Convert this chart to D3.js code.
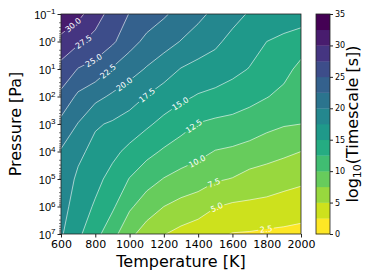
<!DOCTYPE html>
<html>
<head>
<meta charset="utf-8">
<script src="https://cdn.jsdelivr.net/npm/d3@7"></script>
<style>
  body { margin: 0; background: #fff; }
  svg { display: block; font-family: "DejaVu Sans", sans-serif; }
</style>
</head>
<body>
<svg id="chart" width="374" height="280"></svg>
<script>
// grid the values were read on
const temperatures = [600, 700, 800, 900, 1000, 1100, 1200, 1300, 1400, 1500, 1600, 1700, 1800, 1900, 2000];
const pressureExponents = [-1, 0, 1, 2, 3, 4, 5, 6, 7];

// log10(timescale [s]), one row per pressure (1e-1 Pa first)
const timescale = [
  [32.2, 30.7, 28.6, 26.5, 24.9, 23.8, 22.8, 21.7, 20.6, 19.4, 18.2, 17.3, 17.0, 16.7, 16.4],
  [29.2, 27.9, 26.7, 25.4, 23.4, 21.9, 21.0, 19.9, 18.9, 17.9, 16.9, 16.0, 15.0, 14.3, 13.6],
  [26.7, 24.9, 24.1, 22.3, 21.0, 19.8, 18.6, 17.4, 16.7, 16.5, 15.7, 14.9, 13.8, 13.2, 11.9],
  [24.4, 22.0, 20.7, 19.6, 18.6, 17.4, 16.4, 15.5, 14.8, 14.3, 13.8, 13.2, 12.6, 11.9, 11.0],
  [21.8, 19.9, 17.8, 17.2, 16.4, 15.4, 14.3, 13.4, 12.4, 12.0, 11.8, 11.4, 10.7, 10.2, 10.0],
  [19.8, 18.1, 16.7, 15.6, 14.4, 13.2, 12.2, 11.3, 10.7, 9.9, 9.6, 9.1, 8.5, 8.0, 7.5],
  [19.2, 17.0, 15.7, 14.2, 12.4, 11.0, 9.9, 9.2, 8.6, 7.8, 7.4, 6.6, 6.3, 5.9, 5.5],
  [18.5, 16.3, 14.7, 12.9, 10.4, 8.7, 7.5, 6.7, 6.2, 5.1, 4.6, 4.5, 4.3, 3.9, 3.6],
  [17.8, 15.5, 13.3, 10.9, 8.1, 6.4, 5.1, 4.3, 3.6, 3.0, 2.4, 2.3, 2.1, 2.0, 1.8]
];

const levels = [0, 2.5, 5, 7.5, 10, 12.5, 15, 17.5, 20, 22.5, 25, 27.5, 30, 32.5, 35];
const xTicks = [600, 800, 1000, 1200, 1400, 1600, 1800, 2000];
const cbarTicks = [0, 5, 10, 15, 20, 25, 30, 35];

// where the inline labels sit: [level, temperature, log10 pressure]
const labelSpots = [
  [30, 693, -0.42], [27.5, 728, -0.02], [25, 798, 0.78], [22.5, 868, 1.04],
  [20, 985, 1.69], [17.5, 1102, 1.95], [15, 1294, 2.24], [12.5, 1370, 3.04],
  [10, 1393, 4.35], [7.5, 1493, 5.15], [5, 1510, 6.05], [2.5, 1796, 6.82]
];

const x0 = 61, x1 = 301, y0 = 14, y1 = 234;
const svg = d3.select('#chart');

const x = d3.scaleLinear().domain([600, 2000]).range([x0, x1]);
const y = d3.scaleLog().domain([1e-1, 1e7]).range([y0, y1]);
const nBands = levels.length - 1;
const color = (k) => d3.interpolateViridis(1 - k / (nBands - 1));

// padded grid so the outer ring of each contour falls outside the plot
const nx = temperatures.length, ny = pressureExponents.length;
const gw = nx + 2, gh = ny + 2;
const values = new Array(gw * gh);
for (let j = 0; j < gh; j++) {
  for (let i = 0; i < gw; i++) {
    const jj = Math.min(ny - 1, Math.max(0, j - 1));
    const ii = Math.min(nx - 1, Math.max(0, i - 1));
    values[j * gw + i] = timescale[jj][ii];
  }
}
const gx = d3.scaleLinear().domain([1.5, nx + 0.5])
  .range([x(temperatures[0]), x(temperatures[nx - 1])]);
const gy = d3.scaleLinear().domain([1.5, ny + 0.5])
  .range([y(Math.pow(10, pressureExponents[0])), y(Math.pow(10, pressureExponents[ny - 1]))]);

const contours = d3.contours().size([gw, gh]).thresholds(levels)(values);

function ringsOf(c) {
  const out = [];
  c.coordinates.forEach(poly => poly.forEach(ring => out.push(ring.map(p => [gx(p[0]), gy(p[1])]))));
  return out;
}
function pathOf(rings) {
  return rings.map(r => 'M' + r.map(p => p[0].toFixed(2) + ',' + p[1].toFixed(2)).join('L') + 'Z').join('');
}

const defs = svg.append('defs');
defs.append('clipPath').attr('id', 'plotClip')
  .append('rect').attr('x', x0).attr('y', y0).attr('width', x1 - x0).attr('height', y1 - y0);

const plot = svg.append('g').attr('clip-path', 'url(#plotClip)');

// filled bands
contours.forEach(c => {
  const k = levels.indexOf(c.value);
  if (k < 0 || k >= nBands || c.coordinates.length === 0) return;
  plot.append('path')
    .attr('d', pathOf(ringsOf(c)))
    .attr('fill', color(k))
    .attr('fill-rule', 'evenodd');
});

// label positions + mask for line gaps
const mask = defs.append('mask').attr('id', 'lineMask').attr('maskUnits', 'userSpaceOnUse')
  .attr('x', 0).attr('y', 0).attr('width', 374).attr('height', 280);
mask.append('rect').attr('width', 374).attr('height', 280).attr('fill', '#fff');

const labelG = svg.append('g');
labelSpots.forEach(([lev, t, e]) => {
  const c = contours.find(d => d.value === lev);
  if (!c) return;
  const ax = x(t), ay = y(Math.pow(10, e));
  let best = null;
  ringsOf(c).forEach(r => {
    // arc length along ring
    const s = [0];
    for (let i = 1; i < r.length; i++) s.push(s[i - 1] + Math.hypot(r[i][0] - r[i - 1][0], r[i][1] - r[i - 1][1]));
    for (let i = 1; i < r.length; i++) {
      const a = r[i - 1], b = r[i];
      const dx = b[0] - a[0], dy = b[1] - a[1];
      const L2 = dx * dx + dy * dy;
      if (L2 === 0) continue;
      let u = ((ax - a[0]) * dx + (ay - a[1]) * dy) / L2;
      u = Math.max(0, Math.min(1, u));
      const px = a[0] + u * dx, py = a[1] + u * dy;
      const d = Math.hypot(px - ax, py - ay);
      if (!best || d < best.d) best = { d, px, py, r, s, arc: s[i - 1] + u * Math.sqrt(L2) };
    }
  });
  if (!best) return;
  const at = (arc) => {
    const { r, s } = best;
    arc = Math.max(0, Math.min(s[s.length - 1], arc));
    for (let i = 1; i < r.length; i++) {
      if (s[i] >= arc) {
        const f = (arc - s[i - 1]) / ((s[i] - s[i - 1]) || 1);
        return [r[i - 1][0] + f * (r[i][0] - r[i - 1][0]), r[i - 1][1] + f * (r[i][1] - r[i - 1][1])];
      }
    }
    return r[r.length - 1];
  };
  const pa = at(best.arc - 8), pb = at(best.arc + 8);
  let ang = Math.atan2(pb[1] - pa[1], pb[0] - pa[0]) * 180 / Math.PI;
  if (ang > 90) ang -= 180;
  if (ang < -90) ang += 180;
  const tr = `translate(${best.px.toFixed(2)},${best.py.toFixed(2)}) rotate(${ang.toFixed(1)})`;
  const txt = labelG.append('text')
    .attr('transform', tr)
    .attr('text-anchor', 'middle')
    .attr('dy', '0.36em')
    .attr('font-size', 8)
    .attr('fill', '#fff')
    .text(lev.toFixed(1));
  const w = txt.node().getComputedTextLength();
  mask.append('rect')
    .attr('transform', tr)
    .attr('x', -w / 2 - 1.5).attr('y', -4).attr('width', w + 3).attr('height', 8)
    .attr('fill', '#000');
});

// contour lines
const lineG = plot.append('g').attr('mask', 'url(#lineMask)');
contours.forEach(c => {
  if (c.value <= 0 || c.value >= 35 || c.coordinates.length === 0) return;
  lineG.append('path')
    .attr('d', pathOf(ringsOf(c)))
    .attr('fill', 'none')
    .attr('stroke', '#fff')
    .attr('stroke-opacity', 0.85)
    .attr('stroke-width', 0.7);
});
labelG.raise();

// frame
svg.append('rect').attr('x', x0).attr('y', y0).attr('width', x1 - x0).attr('height', y1 - y0)
  .attr('fill', 'none').attr('stroke', '#222').attr('stroke-width', 0.8);

// x axis
const xAxis = svg.append('g').attr('transform', `translate(0,${y1})`)
  .call(d3.axisBottom(x).tickValues(xTicks).tickSize(3.5).tickPadding(2.5).tickFormat(d3.format('d')));
xAxis.select('.domain').remove();
xAxis.selectAll('text').attr('font-size', 11).attr('fill', '#000').attr('font-family', '"DejaVu Sans", sans-serif');
xAxis.selectAll('line').attr('stroke', '#222');

// y axis, minor ticks then majors with 10^n labels
const minorTicks = [];
pressureExponents.slice(0, -1).forEach(e => {
  [2, 3, 4, 5, 6, 7, 8, 9].forEach(m => minorTicks.push(m * Math.pow(10, e)));
});
const majorTicks = pressureExponents.map(e => Math.pow(10, e));
const yMinor = svg.append('g').attr('transform', `translate(${x0},0)`)
  .call(d3.axisLeft(y).tickValues(minorTicks).tickSize(2).tickFormat(''));
yMinor.select('.domain').remove();
yMinor.selectAll('line').attr('stroke', '#222').attr('stroke-width', 0.6);
const yAxis = svg.append('g').attr('transform', `translate(${x0},0)`)
  .call(d3.axisLeft(y).tickValues(majorTicks).tickSize(3.5).tickFormat(''));
yAxis.select('.domain').remove();
yAxis.selectAll('line').attr('stroke', '#222');
yAxis.selectAll('.tick').each(function(d, i) {
  const t = d3.select(this).append('text')
    .attr('x', -5.5).attr('y', 4)
    .attr('text-anchor', 'end')
    .attr('fill', '#000')
    .attr('font-size', 11);
  t.append('tspan').text('10');
  t.append('tspan').attr('dy', -4.5).attr('font-size', 8)
    .text(String(pressureExponents[i]).replace('-', '\u2212'));
});

// axis titles
svg.append('text').attr('x', (x0 + x1) / 2).attr('y', 267)
  .attr('text-anchor', 'middle').attr('font-size', 16).text('Temperature [K]');
svg.append('text').attr('transform', `translate(21,${(y0 + y1) / 2}) rotate(-90)`)
  .attr('text-anchor', 'middle').attr('font-size', 16).text('Pressure [Pa]');

// colorbar
const cbX = 316, cbW = 14;
const cb = d3.scaleLinear().domain([levels[0], levels[nBands]]).range([y1, y0]);
const cbG = svg.append('g');
cbG.selectAll('rect.band').data(d3.range(nBands)).join('rect')
  .attr('class', 'band')
  .attr('x', cbX).attr('width', cbW)
  .attr('y', k => cb(levels[k + 1]))
  .attr('height', k => cb(levels[k]) - cb(levels[k + 1]) + 0.3)
  .attr('fill', k => color(k));
cbG.append('rect').attr('x', cbX).attr('y', y0).attr('width', cbW).attr('height', y1 - y0)
  .attr('fill', 'none').attr('stroke', '#222').attr('stroke-width', 0.8);
const cbAxis = svg.append('g').attr('transform', `translate(${cbX + cbW},0)`)
  .call(d3.axisRight(cb).tickValues(cbarTicks).tickSize(3).tickPadding(2));
cbAxis.select('.domain').remove();
cbAxis.selectAll('text').attr('font-size', 8).attr('fill', '#000').attr('font-family', '"DejaVu Sans", sans-serif');
cbAxis.selectAll('line').attr('stroke', '#222');

const cbTitle = svg.append('text').attr('transform', `translate(358,${(y0 + y1) / 2}) rotate(-90)`)
  .attr('text-anchor', 'middle').attr('font-size', 16);
cbTitle.append('tspan').text('log');
cbTitle.append('tspan').attr('font-size', 11).attr('dy', 3).text('10');
cbTitle.append('tspan').attr('dy', -3).text('(Timescale [s])');
</script>
</body>
</html>
